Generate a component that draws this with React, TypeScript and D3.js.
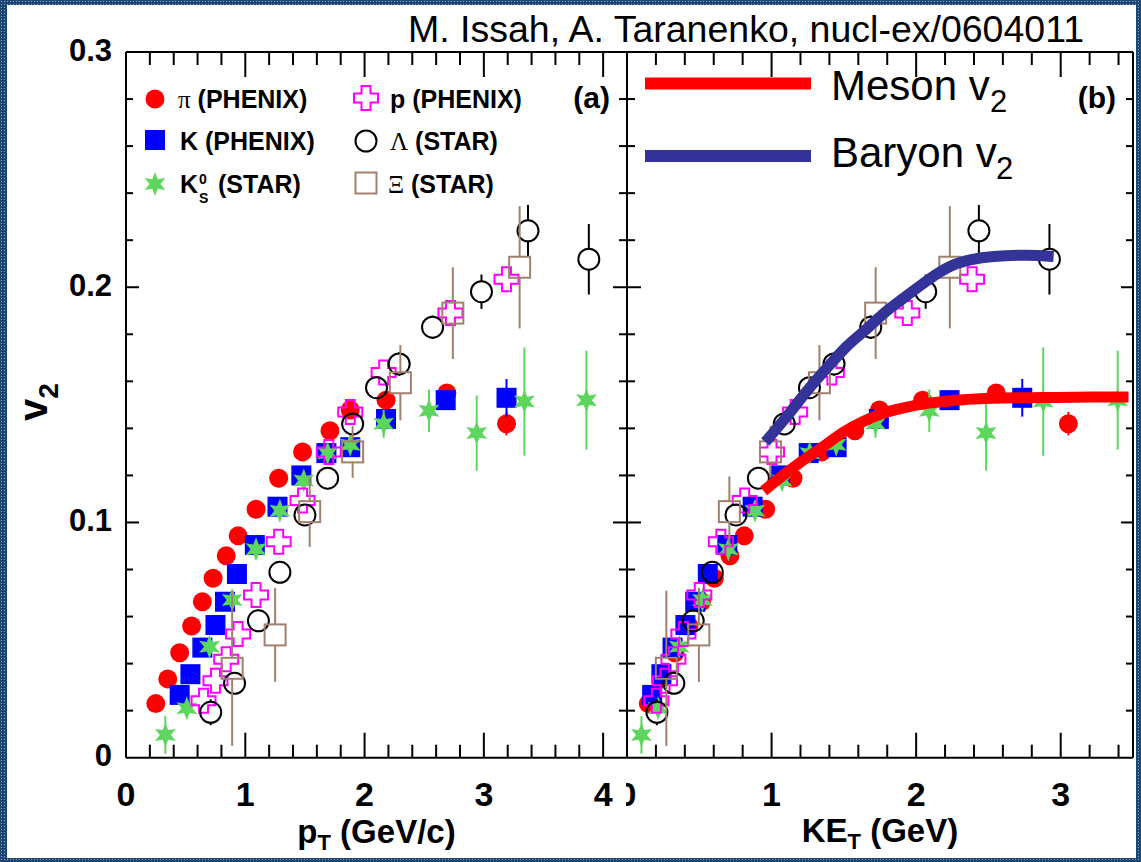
import React from "react";
import * as d3 from "d3";

const W = 1141;
const H = 862;

// ---------- data: panel (a) v2 vs pT, panel (b) v2 vs KE_T ----------
// pi (PHENIX)
const piPt = [0.25, 0.35, 0.45, 0.55, 0.64, 0.73, 0.84, 0.94, 1.09, 1.28, 1.48, 1.71, 1.88, 2.18, 2.69, 3.19];
const piKet = [0.147, 0.237, 0.332, 0.428, 0.515, 0.604, 0.712, 0.811, 0.959, 1.148, 1.347, 1.576, 1.746, 2.045, 2.554, 3.053];
const piV2 = [0.023, 0.0335, 0.0446, 0.056, 0.0663, 0.0763, 0.0858, 0.0943, 0.1056, 0.1188, 0.13, 0.139, 0.1478, 0.152, 0.155, 0.142];
const piErr = [0.001, 0.001, 0.001, 0.001, 0.001, 0.001, 0.001, 0.001, 0.001, 0.001, 0.001, 0.001, 0.001, 0.002, 0.002, 0.005];

// K (PHENIX)
const kPt = [0.45, 0.54, 0.64, 0.75, 0.83, 0.93, 1.08, 1.27, 1.47, 1.68, 1.88, 2.18, 2.68, 3.19];
const kKet = [0.174, 0.238, 0.315, 0.404, 0.472, 0.559, 0.694, 0.869, 1.057, 1.257, 1.45, 1.742, 2.231, 2.734];
const kV2 = [0.0267, 0.0355, 0.0468, 0.0564, 0.0663, 0.0781, 0.0904, 0.1067, 0.12, 0.1295, 0.132, 0.144, 0.152, 0.153];
const kErr = [0.001, 0.001, 0.001, 0.001, 0.001, 0.001, 0.001, 0.001, 0.001, 0.001, 0.001, 0.002, 0.003, 0.008];

// K0S (STAR)
const k0Pt = [0.33, 0.51, 0.7, 0.89, 1.09, 1.29, 1.49, 1.69, 1.88, 2.16, 2.54, 2.94, 3.34, 3.86];
const k0Ket = [0.1, 0.215, 0.361, 0.522, 0.701, 0.885, 1.073, 1.264, 1.447, 1.719, 2.091, 2.484, 2.879, 3.394];
const k0V2 = [0.0097, 0.021, 0.0472, 0.067, 0.0886, 0.105, 0.1178, 0.1294, 0.133, 0.142, 0.1475, 0.138, 0.1514, 0.152];
const k0Err = [0.008, 0.002, 0.002, 0.002, 0.002, 0.002, 0.002, 0.002, 0.003, 0.006, 0.009, 0.016, 0.023, 0.021];

// p (PHENIX)
const pPt = [0.65, 0.75, 0.84, 0.94, 1.09, 1.28, 1.48, 1.7, 1.88, 2.16, 2.72, 3.19];
const pKet = [0.203, 0.263, 0.321, 0.39, 0.5, 0.649, 0.814, 1.003, 1.163, 1.417, 1.939, 2.387];
const pV2 = [0.0242, 0.0327, 0.0418, 0.0526, 0.0692, 0.0918, 0.1093, 0.13, 0.147, 0.1637, 0.189, 0.2034];
const pErr = [0.002, 0.002, 0.002, 0.002, 0.002, 0.002, 0.002, 0.002, 0.002, 0.002, 0.003, 0.003];

// Lambda (STAR)
const lamPt = [0.71, 0.91, 1.11, 1.29, 1.5, 1.69, 1.9, 2.1, 2.29, 2.57, 2.98, 3.37, 3.88];
const lamKet = [0.207, 0.324, 0.458, 0.59, 0.754, 0.909, 1.088, 1.262, 1.432, 1.686, 2.066, 2.434, 2.922];
const lamV2 = [0.0193, 0.0316, 0.0582, 0.0788, 0.1032, 0.1188, 0.1419, 0.1573, 0.1674, 0.183, 0.1981, 0.224, 0.2119];
const lamErr = [0.0055, 0.0045, 0.003, 0.003, 0.004, 0.003, 0.003, 0.003, 0.005, 0.005, 0.0073, 0.011, 0.015];

// Xi (STAR)
const xiPt = [0.89, 1.25, 1.54, 1.9, 2.3, 2.74, 3.3];
const xiKet = [0.272, 0.497, 0.708, 0.993, 1.331, 1.72, 2.233];
const xiV2 = [0.038, 0.0522, 0.1046, 0.13, 0.1594, 0.189, 0.2085];
const xiErr = [0.033, 0.02, 0.015, 0.011, 0.016, 0.0195, 0.026];

// scaling curves in panel (b)
const mesonKet = [0.945, 1.083, 1.222, 1.36, 1.498, 1.637, 1.775, 1.913, 2.075, 2.305, 2.536, 2.881, 3.227, 3.469];
const mesonV2 = [0.1134, 0.1202, 0.1266, 0.1324, 0.1384, 0.143, 0.1465, 0.1487, 0.1506, 0.1521, 0.1528, 0.1531, 0.1533, 0.1533];
const baryonKet = [0.957, 1.107, 1.245, 1.383, 1.521, 1.66, 1.798, 1.913, 2.029, 2.144, 2.259, 2.374, 2.536, 2.766, 2.951];
const baryonV2 = [0.1342, 0.1452, 0.1559, 0.1657, 0.1749, 0.1824, 0.19, 0.1954, 0.2007, 0.2057, 0.2095, 0.2116, 0.2131, 0.2136, 0.2131];

// axis ticks
const xTicksA = [0, 1, 2, 3, 4];
const xTicksB = [0, 1, 2, 3];
const yTicks = [0, 0.1, 0.2, 0.3];
const yTickLabels = ["0", "0.1", "0.2", "0.3"];

// ---------- scales ----------
const xA = d3.scaleLinear().domain([0, 4.2]).range([126, 627]);
const xB = d3.scaleLinear().domain([0, 3.5]).range([627, 1133]);
const y = d3.scaleLinear().domain([0, 0.3]).range([757.7, 52]);

const SANS = "'Liberation Sans', Arial, Helvetica, sans-serif";
const SERIF = "'Liberation Serif', 'Times New Roman', serif";

const C_PI = "#ff0000";
const C_K = "#0000ff";
const C_K0 = "#5cd65c";
const C_P = "#ff00ff";
const C_LAM = "#000000";
const C_XI = "#a0806e";
const C_BAR = "#333399";

type Kind = "circleF" | "squareF" | "star" | "cross" | "circleO" | "squareO";

function starPath(cx: number, cy: number, R: number, r: number) {
  const pts: [number, number][] = [];
  for (let k = 0; k < 12; k++) {
    const a = ((-90 + k * 30) * Math.PI) / 180;
    const rr = k % 2 === 0 ? R : r;
    pts.push([cx + rr * Math.cos(a), cy + rr * Math.sin(a)]);
  }
  return "M" + pts.map((p) => p.join(",")).join("L") + "Z";
}

function crossPath(cx: number, cy: number, L: number, a: number) {
  const p = [
    [-a, -L], [a, -L], [a, -a], [L, -a], [L, a], [a, a], [a, L], [-a, L], [-a, a], [-L, a], [-L, -a], [-a, -a],
  ];
  return "M" + p.map(([dx, dy]) => `${cx + dx},${cy + dy}`).join("L") + "Z";
}

function Marker({ kind, cx, cy, color }: { kind: Kind; cx: number; cy: number; color: string }) {
  switch (kind) {
    case "circleF":
      return <circle cx={cx} cy={cy} r={9.5} fill={color} />;
    case "squareF":
      return <rect x={cx - 10} y={cy - 10} width={20} height={20} fill={color} />;
    case "star":
      return <path d={starPath(cx, cy, 12, 5.5)} fill={color} />;
    case "cross":
      return <path d={crossPath(cx, cy, 12, 4.5)} fill="none" stroke={color} strokeWidth={2} />;
    case "circleO":
      return <circle cx={cx} cy={cy} r={10.5} fill="none" stroke={color} strokeWidth={2} />;
    case "squareO":
      return <rect x={cx - 10.5} y={cy - 10.5} width={21} height={21} fill="none" stroke={color} strokeWidth={2} />;
  }
}

const gapOf: Record<Kind, number> = {
  circleF: 0, squareF: 0, star: 0, cross: 12, circleO: 10.5, squareO: 10.5,
};

type Series = { xs: number[]; v: number[]; e: number[]; kind: Kind; color: string; ew: number };

function SeriesG({ s, x }: { s: Series; x: d3.ScaleLinear<number, number> }) {
  const gap = gapOf[s.kind];
  return (
    <g>
      {s.xs.map((xv, i) => {
        const cx = x(xv);
        const cy = y(s.v[i]);
        const top = y(s.v[i] + s.e[i]);
        const bot = y(s.v[i] - s.e[i]);
        const segs: JSX.Element[] = [];
        if (cy - gap > top)
          segs.push(<line key="t" x1={cx} x2={cx} y1={top} y2={cy - gap} stroke={s.color} strokeWidth={s.ew} />);
        if (cy + gap < bot)
          segs.push(<line key="b" x1={cx} x2={cx} y1={cy + gap} y2={bot} stroke={s.color} strokeWidth={s.ew} />);
        return <g key={i}>{segs}</g>;
      })}
      {s.xs.map((xv, i) => (
        <Marker key={"m" + i} kind={s.kind} cx={x(xv)} cy={y(s.v[i])} color={s.color} />
      ))}
    </g>
  );
}

const seriesA: Series[] = [
  { xs: piPt, v: piV2, e: piErr, kind: "circleF", color: C_PI, ew: 2 },
  { xs: kPt, v: kV2, e: kErr, kind: "squareF", color: C_K, ew: 2 },
  { xs: k0Pt, v: k0V2, e: k0Err, kind: "star", color: C_K0, ew: 2 },
  { xs: pPt, v: pV2, e: pErr, kind: "cross", color: C_P, ew: 2 },
  { xs: lamPt, v: lamV2, e: lamErr, kind: "circleO", color: C_LAM, ew: 2 },
  { xs: xiPt, v: xiV2, e: xiErr, kind: "squareO", color: C_XI, ew: 2 },
];
const seriesB: Series[] = [
  { xs: piKet, v: piV2, e: piErr, kind: "circleF", color: C_PI, ew: 2 },
  { xs: kKet, v: kV2, e: kErr, kind: "squareF", color: C_K, ew: 2 },
  { xs: k0Ket, v: k0V2, e: k0Err, kind: "star", color: C_K0, ew: 2 },
  { xs: pKet, v: pV2, e: pErr, kind: "cross", color: C_P, ew: 2 },
  { xs: lamKet, v: lamV2, e: lamErr, kind: "circleO", color: C_LAM, ew: 2 },
  { xs: xiKet, v: xiV2, e: xiErr, kind: "squareO", color: C_XI, ew: 2 },
];

export default function App() {
  const y0 = y(0);
  const yT = y(0.3);
  const xL = xA(0);
  const xM = xA(4.2);
  const xR = xB(3.5);

  const minorA = d3.range(0.2, 4.2, 0.2).filter((v) => Math.abs(v - Math.round(v)) > 0.01);
  const minorB = d3.range(0.2, 3.5, 0.2).filter((v) => Math.abs(v - Math.round(v)) > 0.01);
  const majorA = [1, 2, 3, 4];
  const majorB = [1, 2, 3];
  const yMinor = d3.range(0.02, 0.3, 0.02).filter((v) => Math.abs(v * 10 - Math.round(v * 10)) > 0.01);
  const yMajor = [0.1, 0.2];

  const line = d3
    .line<[number, number]>()
    .x((d) => xB(d[0]))
    .y((d) => y(d[1]))
    .curve(d3.curveMonotoneX);
  const mesonPath = line(mesonKet.map((k, i) => [k, mesonV2[i]]));
  const baryonPath = line(baryonKet.map((k, i) => [k, baryonV2[i]]));

  const tk = { stroke: "#000", strokeWidth: 2 };

  return (
    <div style={{ position: "absolute", left: 0, top: 0 }}>
      <svg width={W} height={H} style={{ display: "block", background: "#fff" }}>
        <defs>
          <pattern id="frame" width={3} height={3} patternUnits="userSpaceOnUse">
            <rect width={3} height={3} fill="#1d4673" />
            <rect x={1} y={1} width={1} height={1} fill="#8aa8cc" />
          </pattern>
          <clipPath id="clipZero">
            <rect x={626} y={760} width={40} height={60} />
          </clipPath>
        </defs>
        <rect x={0} y={0} width={W} height={H} fill="#fff" />

        {/* data */}
        {seriesA.map((s, i) => (
          <SeriesG key={"a" + i} s={s} x={xA} />
        ))}
        {seriesB.map((s, i) => (
          <SeriesG key={"b" + i} s={s} x={xB} />
        ))}

        {/* scaling curves */}
        <path d={baryonPath || ""} fill="none" stroke={C_BAR} strokeWidth={11} />
        <path d={mesonPath || ""} fill="none" stroke={C_PI} strokeWidth={11} />

        {/* frame */}
        <g fill="none" stroke="#000" strokeWidth={2}>
          <line x1={xL} x2={xR} y1={yT} y2={yT} />
          <line x1={xL} x2={xR} y1={y0} y2={y0} />
          <line x1={xL} x2={xL} y1={yT} y2={y0} />
          <line x1={xM} x2={xM} y1={yT} y2={y0} />
          <line x1={xR} x2={xR} y1={yT} y2={y0} />
        </g>

        {/* x ticks */}
        <g>
          {minorA.map((v) => (
            <g key={"ma" + v}>
              <line x1={xA(v)} x2={xA(v)} y1={y0} y2={y0 - 13} {...tk} />
              <line x1={xA(v)} x2={xA(v)} y1={yT} y2={yT + 13} {...tk} />
            </g>
          ))}
          {majorA.map((v) => (
            <g key={"Ma" + v}>
              <line x1={xA(v)} x2={xA(v)} y1={y0} y2={y0 - 25} {...tk} />
              <line x1={xA(v)} x2={xA(v)} y1={yT} y2={yT + 25} {...tk} />
            </g>
          ))}
          {minorB.map((v) => (
            <g key={"mb" + v}>
              <line x1={xB(v)} x2={xB(v)} y1={y0} y2={y0 - 13} {...tk} />
              <line x1={xB(v)} x2={xB(v)} y1={yT} y2={yT + 13} {...tk} />
            </g>
          ))}
          {majorB.map((v) => (
            <g key={"Mb" + v}>
              <line x1={xB(v)} x2={xB(v)} y1={y0} y2={y0 - 25} {...tk} />
              <line x1={xB(v)} x2={xB(v)} y1={yT} y2={yT + 25} {...tk} />
            </g>
          ))}
        </g>

        {/* y ticks */}
        <g>
          {yMinor.map((v) => (
            <g key={"ym" + v}>
              <line x1={xL} x2={xL + 7} y1={y(v)} y2={y(v)} {...tk} />
              <line x1={xM - 8} x2={xM + 8} y1={y(v)} y2={y(v)} {...tk} />
              <line x1={xR - 7} x2={xR} y1={y(v)} y2={y(v)} {...tk} />
            </g>
          ))}
          {yMajor.map((v) => (
            <g key={"yM" + v}>
              <line x1={xL} x2={xL + 13} y1={y(v)} y2={y(v)} {...tk} />
              <line x1={xM - 14} x2={xM + 14} y1={y(v)} y2={y(v)} {...tk} />
              <line x1={xR - 12} x2={xR} y1={y(v)} y2={y(v)} {...tk} />
            </g>
          ))}
        </g>

        {/* tick labels */}
        <g fontFamily={SANS} fontWeight="bold" fill="#000">
          {yTicks.map((v, i) => (
            <text key={"yl" + i} x={112} y={y(v) + 8.5} fontSize={31} textAnchor="end">
              {yTickLabels[i]}
            </text>
          ))}
          {xTicksA.map((v) => (
            <text key={"xla" + v} x={xA(v)} y={806} fontSize={34} textAnchor="middle">
              {String(v)}
            </text>
          ))}
          {xTicksB.map((v) =>
            v === 0 ? (
              <text key={"xlb" + v} x={xB(v)} y={806} fontSize={34} textAnchor="middle" clipPath="url(#clipZero)">
                {String(v)}
              </text>
            ) : (
              <text key={"xlb" + v} x={xB(v)} y={806} fontSize={34} textAnchor="middle">
                {String(v)}
              </text>
            )
          )}
        </g>

        {/* axis titles */}
        <g fontFamily={SANS} fontWeight="bold" fill="#000">
          <text x={(xL + xM) / 2} y={843} fontSize={33} textAnchor="middle">
            p<tspan fontSize={22} dy={7}>T</tspan>
            <tspan dy={-7}> (GeV/c)</tspan>
          </text>
          <text x={(xM + xR) / 2} y={842} fontSize={33} textAnchor="middle">
            KE<tspan fontSize={22} dy={7}>T</tspan>
            <tspan dy={-7}> (GeV)</tspan>
          </text>
          <text transform="translate(47,421) rotate(-90)" fontSize={40}>
            v<tspan fontSize={28} dy={11}>2</tspan>
          </text>
          <text x={610} y={108} fontSize={30} textAnchor="end">(a)</text>
          <text x={1116} y={108} fontSize={30} textAnchor="end">(b)</text>
        </g>

        {/* legend (a) */}
        <g fontFamily={SANS} fontWeight="bold" fontSize={25} fill="#000">
          <Marker kind="circleF" cx={155} cy={99} color={C_PI} />
          <text x={178} y={108}>
            <tspan fontFamily={SERIF} fontWeight="normal">π</tspan> (PHENIX)
          </text>
          <Marker kind="squareF" cx={155} cy={140} color={C_K} />
          <text x={180} y={150}>K (PHENIX)</text>
          <Marker kind="star" cx={155} cy={184} color={C_K0} />
          <text x={180} y={193}>K</text>
          <text x={199} y={184} fontSize={14}>0</text>
          <text x={199} y={203} fontSize={14}>S</text>
          <text x={218} y={193}>(STAR)</text>

          <Marker kind="cross" cx={366} cy={98} color={C_P} />
          <text x={390} y={108}>p (PHENIX)</text>
          <Marker kind="circleO" cx={366} cy={141} color={C_LAM} />
          <text x={390} y={150}>
            <tspan fontFamily={SERIF} fontWeight="normal">Λ</tspan> (STAR)
          </text>
          <Marker kind="squareO" cx={366} cy={183} color={C_XI} />
          <text x={388} y={193}>
            <tspan fontFamily={SERIF} fontWeight="normal">Ξ</tspan> (STAR)
          </text>
        </g>

        {/* legend (b) */}
        <line x1={645} x2={811} y1={83.5} y2={83.5} stroke={C_PI} strokeWidth={12} />
        <line x1={645} x2={811} y1={156} y2={156} stroke={C_BAR} strokeWidth={12} />
        <g fontFamily={SANS} fill="#000">
          <text x={831} y={100} fontSize={42}>Meson v</text>
          <text x={990} y={112} fontSize={31}>2</text>
          <text x={831} y={167} fontSize={42}>Baryon v</text>
          <text x={996} y={179} fontSize={31}>2</text>
        </g>

        {/* citation */}
        <text x={408} y={42} fontFamily={SANS} fontSize={37.5} fill="#000">
          M. Issah, A. Taranenko, nucl-ex/0604011
        </text>

        {/* patterned frame */}
        <rect x={0} y={0} width={7} height={H} fill="url(#frame)" />
        <rect x={0} y={0} width={W} height={5} fill="url(#frame)" />
        <rect x={W - 5} y={0} width={5} height={H} fill="url(#frame)" />
        <rect x={0} y={H - 4} width={W} height={4} fill="url(#frame)" />
      </svg>
    </div>
  );
}
